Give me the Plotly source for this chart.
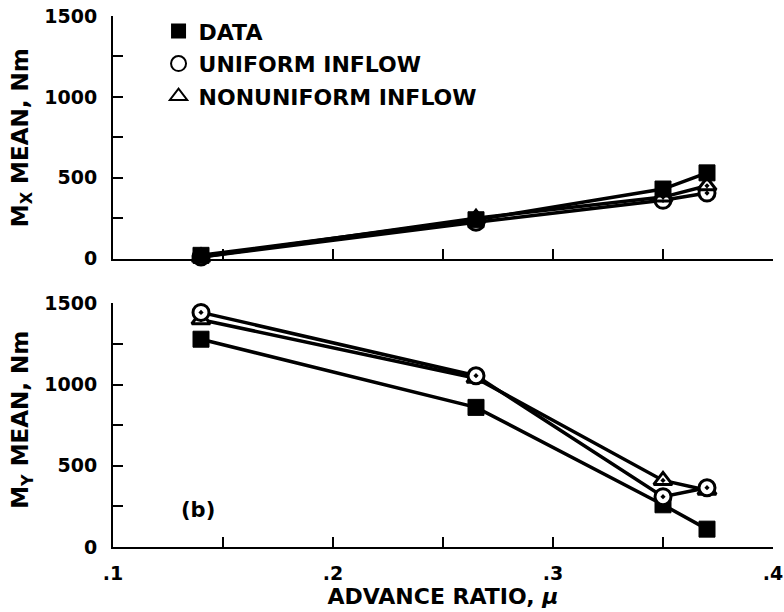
import plotly.graph_objects as go

# Advance ratio of each test condition
mu = [0.14, 0.265, 0.35, 0.37]

# Mean roll moment Mx, N·m
mx_data = [20, 240, 430, 530]
mx_uniform = [10, 225, 360, 405]
mx_nonuniform = [10, 250, 380, 450]

# Mean pitch moment My, N·m
my_data = [1280, 860, 260, 110]
my_uniform = [1445, 1055, 310, 365]
my_nonuniform = [1400, 1040, 410, 350]

series_names = ["DATA", "UNIFORM INFLOW", "NONUNIFORM INFLOW"]

y_ticks = [0, 250, 500, 750, 1000, 1250, 1500]
y_ticktext = ["0", "", "500", "", "1000", "", "1500"]
x_ticks = [0.1, 0.15, 0.2, 0.25, 0.3, 0.35, 0.4]
x_ticktext = [".1", "", ".2", "", ".3", "", ".4"]

FONT = "DejaVu Sans"
INK = "black"

sq = dict(symbol="square", size=16, color=INK, line=dict(color=INK, width=1))
circ = dict(symbol="circle-dot", size=16, color="white", line=dict(color=INK, width=3))
tri = dict(symbol="triangle-up-dot", size=16, color="white", line=dict(color=INK, width=3))
line = dict(color=INK, width=3.5)

fig = go.Figure()


def add(x, y, marker, xa, ya):
    fig.add_trace(go.Scatter(x=x, y=y, mode="lines+markers", line=line, marker=marker,
                             xaxis=xa, yaxis=ya, showlegend=False, cliponaxis=False))


# upper panel: Mx
add(mu, mx_uniform, circ, "x", "y")
add(mu, mx_nonuniform, tri, "x", "y")
add(mu, mx_data, sq, "x", "y")
# lower panel: My
add(mu, my_data, sq, "x2", "y2")
add(mu, my_nonuniform, tri, "x2", "y2")
add(mu, my_uniform, circ, "x2", "y2")

# legend entries (plain symbols)
legend_markers = [
    dict(symbol="square", size=15, color=INK),
    dict(symbol="circle", size=15, color="white", line=dict(color=INK, width=2)),
    dict(symbol="triangle-up", size=15, color="white", line=dict(color=INK, width=2)),
]
for name, mk in zip(series_names, legend_markers):
    fig.add_trace(go.Scatter(x=[None], y=[None], mode="markers", marker=mk, name=name,
                             legendgroup=name, xaxis="x", yaxis="y"))

tickfont = dict(family=FONT, size=19, color=INK, weight="bold")

xcommon = dict(range=[0.1, 0.4], showline=True, linewidth=2, linecolor=INK,
               ticks="inside", ticklen=10, tickwidth=2, tickcolor=INK,
               tickvals=x_ticks, ticktext=x_ticktext, showgrid=False, zeroline=False,
               tickfont=tickfont, ticklabelstandoff=8, automargin=False)
ycommon = dict(range=[0, 1500], showline=True, linewidth=2, linecolor=INK,
               ticks="inside", ticklen=10, tickwidth=2, tickcolor=INK,
               tickvals=y_ticks, ticktext=y_ticktext, showgrid=False, zeroline=False,
               tickfont=tickfont, ticklabelstandoff=10, automargin=False)

fig.update_layout(
    width=784, height=612,
    margin=dict(l=113, r=11, t=15, b=65),
    paper_bgcolor="white", plot_bgcolor="white",
    xaxis=dict(**xcommon, anchor="y", showticklabels=False),
    yaxis=dict(**ycommon, anchor="x", domain=[0.5432, 1.0]),
    xaxis2=dict(**xcommon, anchor="y2",
                title=dict(text="ADVANCE RATIO, <i>μ</i>", standoff=4,
                           font=dict(family=FONT, size=22, color=INK, weight="bold"))),
    yaxis2=dict(**ycommon, anchor="x2", domain=[0.0, 0.4586]),
    legend=dict(x=0.069, y=1.009, xanchor="left", yanchor="top",
                font=dict(family=FONT, size=22, color=INK, weight="bold"),
                bgcolor="rgba(0,0,0,0)", tracegroupgap=1, traceorder="grouped",
                itemwidth=30),
    showlegend=True,
)

title_font = dict(family=FONT, size=23, color=INK, weight="bold")
fig.add_annotation(text="M<sub>X</sub> MEAN, Nm", textangle=-90, xref="paper", yref="paper",
                   x=-0.138, y=(0.5432 + 1.0) / 2, xanchor="center", yanchor="middle",
                   showarrow=False, font=title_font)
fig.add_annotation(text="M<sub>Y</sub> MEAN, Nm", textangle=-90, xref="paper", yref="paper",
                   x=-0.138, y=0.4586 / 2 + 0.01, xanchor="center", yanchor="middle",
                   showarrow=False, font=title_font)
fig.add_annotation(text="(b)", xref="x2", yref="y2", x=0.1386, y=228, showarrow=False,
                   font=dict(family=FONT, size=21, color=INK, weight="bold"))

fig.write_html("out.html")
